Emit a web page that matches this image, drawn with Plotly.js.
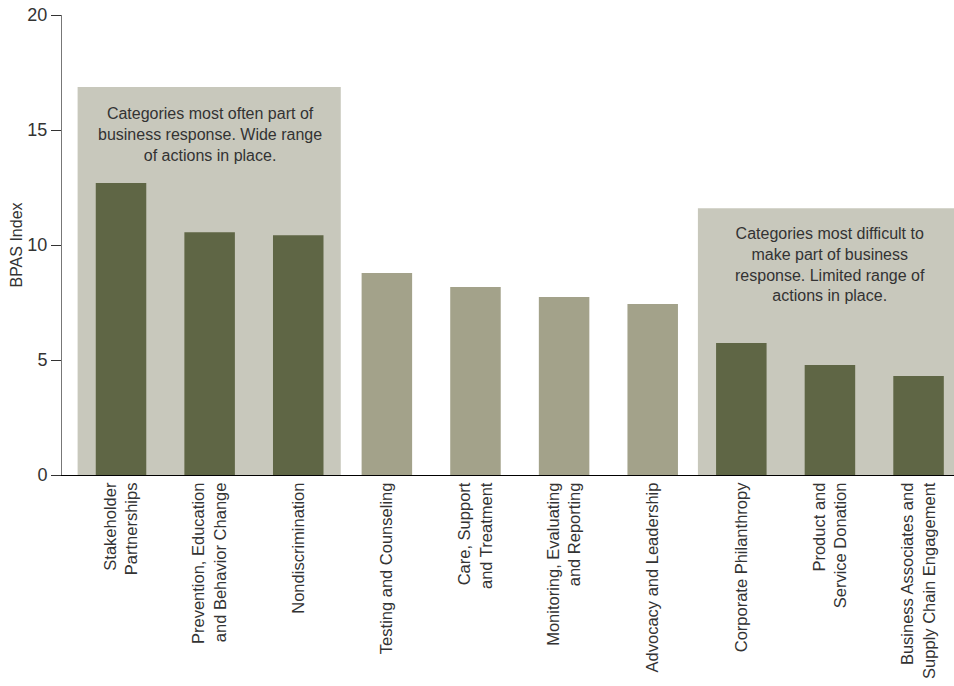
<!DOCTYPE html>
<html>
<head>
<meta charset="utf-8">
<script src="https://cdn.plot.ly/plotly-3.0.1.min.js"></script>
<style>html,body{margin:0;padding:0;background:#fff;}#chart{width:954px;height:686px;}</style>
</head>
<body>
<div id="chart"></div>
<script>
const categories = [
  "Stakeholder<br>Partnerships",
  "Prevention, Education<br>and Behavior Change",
  "Nondiscrimination",
  "Testing and Counseling",
  "Care, Support<br>and Treatment",
  "Monitoring, Evaluating<br>and Reporting",
  "Advocacy and Leadership",
  "Corporate Philanthropy",
  "Product and<br>Service Donation",
  "Business Associates and<br>Supply Chain Engagement"
];
const values = [12.7, 10.55, 10.42, 8.78, 8.17, 7.74, 7.43, 5.74, 4.78, 4.3];
const groups = ["high","high","high","mid","mid","mid","mid","low","low","low"];
const groupColors = {high: "#5f6645", mid: "#a3a28a", low: "#5f6645"};
const noteHigh = "Categories most often part of<br>business response. Wide range<br>of actions in place.";
const noteLow = "Categories most difficult to<br>make part of business<br>response. Limited range of<br>actions in place.";
const boxHigh = {from: -0.49, to: 2.48, top: 16.87};
const boxLow = {from: 6.51, to: 9.5, top: 11.6};

const idx = categories.map((c, i) => i);
const trace = {
  type: "bar",
  x: idx,
  y: values,
  width: 0.57,
  marker: {color: groups.map(g => groupColors[g])},
  hoverinfo: "skip"
};

const layout = {
  width: 954, height: 686,
  margin: {l: 62, r: 0, t: 15, b: 211},
  paper_bgcolor: "#fff", plot_bgcolor: "#fff",
  font: {family: "Liberation Sans, Arial, sans-serif", color: "#333", size: 16},
  showlegend: false,
  xaxis: {
    range: [-0.666, 9.4],
    tickmode: "array", tickvals: idx, ticktext: categories,
    tickangle: -90, ticks: "", showgrid: false, zeroline: false,
    showline: true, linecolor: "#000", linewidth: 1,
    tickfont: {size: 16.5, color: "#333"}
  },
  yaxis: {
    range: [0, 20], tickvals: [0, 5, 10, 15, 20],
    ticks: "outside", ticklen: 10, tickcolor: "#333", tickwidth: 1,
    showgrid: false, zeroline: false,
    showline: true, linecolor: "#777", linewidth: 1,
    tickfont: {size: 18, color: "#333"},
    title: {text: "BPAS Index", font: {size: 16, color: "#333"}, standoff: 0}
  },
  shapes: [
    {type: "rect", xref: "x", yref: "y", x0: boxHigh.from, x1: boxHigh.to, y0: 0, y1: boxHigh.top,
     fillcolor: "#c8c8bc", line: {width: 0}, layer: "below"},
    {type: "rect", xref: "x", yref: "y", x0: boxLow.from, x1: boxLow.to, y0: 0, y1: boxLow.top,
     fillcolor: "#c8c8bc", line: {width: 0}, layer: "below"}
  ],
  annotations: [
    {xref: "x", yref: "y", x: 1, y: 14.8, text: noteHigh, showarrow: false,
     font: {size: 16, color: "#333"}, align: "center"},
    {xref: "x", yref: "y", x: 8, y: 9.17, text: noteLow, showarrow: false,
     font: {size: 16, color: "#333"}, align: "center"}
  ]
};

Plotly.newPlot("chart", [trace], layout, {displayModeBar: false, staticPlot: true});
</script>
</body>
</html>
